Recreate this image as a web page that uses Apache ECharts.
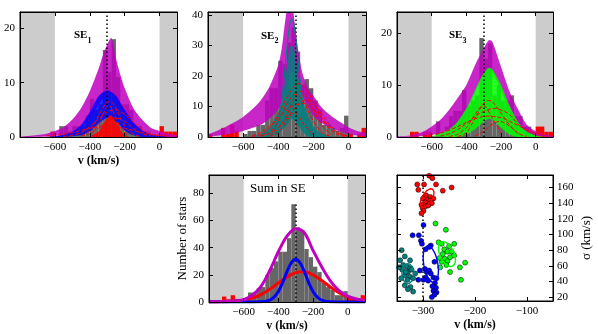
<!DOCTYPE html>
<html>
<head>
<meta charset="utf-8">
<script src="https://cdn.jsdelivr.net/npm/echarts@6/dist/echarts.min.js"></script>
<style>
html, body { margin: 0; padding: 0; background: #fff; }
#chart { width: 598px; height: 334px; }
</style>
</head>
<body>
<div id="chart"></div>
<script>
// histogram bins: 25 km/s wide starting at -800
const binStart = -800
const binWidth = 25
const refV = -300
const sumRefTop = 72
const shadeRanges = [[-800, -600], [0, 100]]

// counts per bin (-800 .. 100)
const histSE1 = [0,0,0,0,0,0,0,1, 0,2,2,1,2,2,2,4,7,5,6,16,12,18,11,6,6,5,2,2,1,1,0,0, 2,1,1,1]
const histSE2 = [1,0,0,3,1,4,2,0, 1,2,2,4,4,12,16,16,25,24,31,36,28,17,19,16,12,9,4,4,3,2,3,7, 1,0,1,3]
const histSE3 = [0,0,0,1,1,0,1,1, 0,3,1,2,4,5,5,9,6,7,8,19,15,18,8,10,7,7,8,4,4,2,2,1, 2,2,1,1]
const histSum = [1,1,1,4,2,5,2,1, 3,7,7,10,11,20,25,30,37,37,47,72,55,53,39,33,26,22,14,11,9,5,5,8, 3,2,2,5]

// SE1 model curves [v, N]
const magUp1 = [[-800,0.1],[-750,0.2],[-700,0.35],[-650,0.6],[-600,1.1],[-550,1.8],[-500,3.2],[-450,5.3],[-400,8.4],[-350,12.5],[-320,15.5],[-300,17],[-285,18],[-275,18.2],[-265,17],[-250,14.5],[-225,11.5],[-200,9],[-150,5.3],[-100,3.2],[-50,1.7],[0,1.1],[50,0.6],[100,0.3]]
const magLo1 = [[-800,0],[-700,0.05],[-600,0.2],[-550,0.4],[-500,0.8],[-450,1.6],[-400,3.5],[-350,6],[-300,8],[-275,8],[-250,6.8],[-200,4],[-150,1.8],[-100,0.8],[-50,0.3],[0,0.1],[100,0]]
const blueUp1 = [[-650,0.05],[-600,0.15],[-550,0.4],[-500,1],[-450,2.2],[-400,4.6],[-350,7.5],[-300,8.6],[-250,7.6],[-200,5],[-150,2.7],[-100,1.2],[-50,0.5],[0,0.2],[50,0.05]]
const blueLo1 = [[-550,0],[-450,0.3],[-400,1],[-350,2.5],[-300,3.5],[-250,2.8],[-200,1.2],[-150,0.3],[-100,0]]
const redCore1 = [[-400,0.1],[-350,1],[-310,3],[-280,4],[-250,2.8],[-210,0.6],[-180,0.1]]
const redLines1 = [
  [[-450,0.2],[-400,1.2],[-350,3.9],[-300,6.4],[-280,6.5],[-250,5.3],[-200,2.1],[-150,0.5],[-100,0.05]],
  [[-550,0.1],[-500,0.3],[-450,0.8],[-400,1.9],[-350,3.3],[-300,4.6],[-260,5],[-200,4.2],[-150,2.7],[-100,1.4],[-50,0.5],[0,0.2]],
  [[-450,0.2],[-400,0.6],[-350,1.6],[-300,2.9],[-250,3.5],[-200,2.9],[-150,1.6],[-100,0.6],[-50,0.2]],
  [[-650,0.2],[-600,0.3],[-550,0.5],[-500,0.8],[-450,1.2],[-400,1.6],[-350,1.9],[-300,2],[-250,1.9],[-200,1.6],[-150,1.2],[-100,0.8],[-50,0.5],[0,0.3],[50,0.2]],
  [[-400,0.5],[-350,2.2],[-320,4.5],[-290,5.8],[-260,4.3],[-220,1.5],[-180,0.3]]
]

// SE2 model curves
const magUp2 = [[-800,0.8],[-750,2],[-700,3.3],[-650,4.8],[-600,6.6],[-550,9],[-500,12],[-450,16.5],[-400,23.5],[-380,29],[-365,36],[-350,42],[-335,45],[-320,43],[-305,37],[-290,30],[-275,24.5],[-260,20.5],[-230,16],[-200,13.5],[-150,9.5],[-100,7],[-50,5],[0,3.2],[50,2],[100,1.3]]
const magLo2 = [[-800,0.2],[-700,0.8],[-600,2],[-500,4],[-450,6],[-400,9],[-350,16],[-320,22],[-300,20],[-250,12],[-200,7],[-150,4.5],[-100,3],[-50,1.8],[0,1],[100,0.3]]
const tealUp2 = [[-550,0.3],[-500,1],[-450,3],[-400,8],[-370,15],[-350,23],[-330,30],[-310,29],[-290,21],[-260,12],[-230,7],[-200,3.5],[-150,1],[-100,0.2]]
const tealLo2 = [[-450,0],[-400,1],[-350,4],[-320,6],[-300,5],[-250,1],[-200,0]]
const tealSpike2 = [[-450,0.8],[-400,4.7],[-370,17.4],[-350,29.5],[-335,36.5],[-322,38.7],[-310,36.9],[-295,30],[-275,18],[-250,6.4],[-225,1.5],[-200,0.2]]
const redLines2 = [
  [[-550,0.2],[-500,0.8],[-450,2.9],[-400,7.3],[-350,13.1],[-300,17.1],[-280,17.5],[-250,16.6],[-200,11.6],[-150,6],[-100,2.3],[-50,0.6],[0,0.1]],
  [[-500,0.2],[-450,1.4],[-400,5.2],[-350,10.9],[-300,14],[-250,10.9],[-200,5.2],[-150,1.4],[-100,0.2]],
  [[-550,0.3],[-500,1.5],[-450,3.6],[-400,6.2],[-350,8.9],[-300,10.6],[-260,11],[-200,9.1],[-150,6.1],[-100,3.1],[-50,1.1],[0,0.3]],
  [[-450,0.1],[-400,1.6],[-350,5.4],[-310,8],[-250,3.9],[-200,0.7]],
  [[-450,0.5],[-400,2.7],[-350,7.3],[-300,13.6],[-270,15],[-250,14.4],[-200,9.1],[-150,3.8],[-100,0.8]],
  [[-500,0.4],[-450,1.2],[-400,3.2],[-350,6.3],[-300,9.8],[-240,12],[-200,11],[-150,7.3],[-100,3.6],[-50,1.2],[0,0.4]]
]

// SE3 model curves
const magUp3 = [[-800,0.1],[-750,0.2],[-700,0.5],[-650,1],[-600,2],[-550,3.3],[-500,5.2],[-450,7.5],[-400,10],[-350,13.8],[-300,17],[-270,18.6],[-250,18.3],[-200,13.5],[-150,8.7],[-100,5.2],[-50,2.3],[0,1.1],[50,0.5],[100,0.2]]
const magLo3 = [[-800,0],[-700,0.1],[-600,0.4],[-550,0.8],[-500,1.5],[-450,2.8],[-400,5],[-350,8.5],[-300,12],[-270,13],[-250,12.5],[-200,9],[-150,5],[-100,2.3],[-50,0.8],[0,0.3],[100,0]]
const greenUp3 = [[-600,0.2],[-550,0.6],[-500,1.4],[-450,3],[-400,5.5],[-350,9],[-300,12.3],[-270,13.3],[-250,13],[-200,10],[-150,6],[-100,2.8],[-50,1],[0,0.3],[50,0.1]]
const greenLo3 = [[-450,0],[-400,0.5],[-350,1.5],[-300,3],[-270,3.5],[-250,3.3],[-200,1.8],[-150,0.5],[-100,0]]
const redLines3 = [
  [[-500,0.1],[-450,0.5],[-400,1.8],[-350,4.3],[-300,6.5],[-270,7],[-250,6.8],[-200,4.6],[-150,2.3],[-100,0.7],[-50,0.1]],
  [[-550,0.2],[-500,0.6],[-450,1.4],[-400,2.6],[-350,3.9],[-300,4.9],[-240,5.5],[-200,5.2],[-150,4.3],[-100,2.4],[-50,1.2],[0,0.5]],
  [[-650,0.2],[-600,0.4],[-550,0.8],[-500,1.3],[-450,2],[-400,2.8],[-350,3.5],[-280,4],[-200,3.7],[-150,3],[-100,2.2],[-50,1.4],[0,0.8],[50,0.4]],
  [[-350,0.2],[-300,1.1],[-250,2.4],[-210,3],[-150,2.1],[-100,0.6]],
  [[-450,0.1],[-400,0.8],[-350,3.6],[-300,6],[-250,3.6],[-200,0.8]]
]

// Sum in SE fits
const sumMag = [[-800,0.2],[-750,0.3],[-700,0.5],[-650,0.9],[-600,1.8],[-550,5],[-500,11.5],[-450,23],[-400,37],[-350,48.5],[-300,54],[-250,51],[-200,38],[-150,26],[-100,15.5],[-50,8.3],[0,4.3],[50,2.3],[100,1.2]]
const sumBlue = [[-800,0],[-550,0],[-500,0.1],[-450,1.4],[-425,3.6],[-400,7.8],[-375,14.3],[-350,22.3],[-325,28.9],[-300,31.5],[-275,28.9],[-250,22.3],[-225,14.3],[-200,7.8],[-175,3.6],[-150,1.4],[-100,0.1],[-50,0],[100,0]]
const sumRed = [[-800,0],[-700,0.2],[-650,0.5],[-600,1.3],[-550,2.8],[-500,5.4],[-450,9.3],[-400,14],[-350,18.5],[-300,21.6],[-265,22.3],[-250,22.2],[-200,20],[-150,15.9],[-100,11.1],[-50,6.9],[0,3.7],[50,1.8],[100,0.7]]

// (v, sigma) of individual fields
const ptsRed = [[-288,175],[-282,172],[-311,164],[-298,164],[-275,164],[-245,160],[-262,156],[-309,157],[-294,150],[-286,148],[-280,146],[-300,146],[-292,144],[-286,143],[-296,141],[-288,139],[-303,138],[-295,136],[-301,134],[-299,130],[-303,127],[-283,140],[-290,137]]
const ptsBlue = [[-299,112],[-320,99],[-308,99],[-304,92],[-302,88],[-285,86],[-295,81],[-288,84],[-278,65],[-306,54],[-296,56],[-293,52],[-288,54],[-285,50],[-295,45],[-299,42],[-290,41],[-280,45],[-274,44],[-277,38],[-282,34],[-275,32],[-280,28],[-274,26],[-278,23],[-283,20],[-309,42]]
const ptsTeal = [[-341,80],[-335,72],[-344,67],[-325,67],[-338,61],[-331,59],[-325,57],[-340,55],[-329,52],[-322,55],[-335,48],[-325,46],[-342,44],[-330,42],[-319,44],[-315,50],[-324,33],[-329,30],[-319,27],[-335,35],[-346,58],[-333,52]]
const ptsGreen = [[-276,114],[-256,106],[-270,90],[-264,88],[-240,88],[-259,81],[-253,78],[-245,78],[-248,71],[-258,69],[-264,65],[-253,66],[-267,58],[-255,61],[-248,52],[-229,58],[-219,64],[-227,42],[-240,73],[-262,75],[-250,85],[-268,70]]
// ellipses: centre v, centre sigma, semi-axis v, semi-axis sigma, tilt (deg)
const ellRed = [-292, 146.5, 9.6, 13.4, 30]
const ellBlue = [-285, 62, 13.5, 23.6, -10]
const ellGreen = [-254, 75, 13.5, 17.2, -25]
const ellTeal = [-329, 50, 11.5, 12.8, 0]

const MAG = '#bf00bf', BLUE = '#0000ff', RED = '#ff0000', GREEN = '#00ff00', TEAL = '#008080'
const font = 'Liberation Serif'
const minus = v => String(v).replace('-', '\u2212')

const chart = echarts.init(document.getElementById('chart'))

const grids = [
  { left: 20, top: 12, width: 157, height: 125 },
  { left: 208, top: 12, width: 158, height: 125 },
  { left: 397, top: 12, width: 156, height: 125 },
  { left: 209, top: 175, width: 156, height: 127 },
  { left: 397, top: 175, width: 156, height: 126 }
].map(g => Object.assign(g, { show: true, borderColor: '#000', borderWidth: 1 }))

const xAxes = []
const yAxes = []
function axisBase(g, min, max, ticks) {
  return {
    gridIndex: g, type: 'value', min: min, max: max, z: 20,
    splitLine: { show: false },
    axisLine: { show: true, onZero: false, lineStyle: { color: '#000', width: 1 } },
    axisTick: { show: true, inside: true, length: 4, customValues: ticks, lineStyle: { color: '#000' } }
  }
}
function labelStyle(ticks, margin) {
  return { customValues: ticks, fontFamily: font, fontSize: 11, color: '#000', margin: margin, formatter: minus }
}
function addX(g, min, max, ticks, name) {
  xAxes.push(Object.assign(axisBase(g, min, max, ticks), {
    position: 'bottom', axisLabel: labelStyle(ticks, 5),
    name: name, nameLocation: 'middle', nameGap: 18,
    nameTextStyle: { fontFamily: font, fontSize: 12, fontWeight: 'bold', color: '#000' }
  }))
  xAxes.push(Object.assign(axisBase(g, min, max, ticks), { position: 'top', axisLabel: { show: false } }))
}
function addY(g, min, max, ticks, side, name, gap) {
  const other = side === 'left' ? 'right' : 'left'
  yAxes.push(Object.assign(axisBase(g, min, max, ticks), {
    position: side, axisLabel: labelStyle(ticks, side === 'left' ? 5 : 4),
    name: name, nameLocation: 'middle', nameGap: gap, nameRotate: 90,
    nameTextStyle: { fontFamily: font, fontSize: 13, color: '#000' }
  }))
  yAxes.push(Object.assign(axisBase(g, min, max, ticks), { position: other, axisLabel: { show: false } }))
}

const vTicks = [-600, -400, -200, 0]
addX(0, -800, 100, vTicks, 'v (km/s)')
addX(1, -800, 100, vTicks, '')
addX(2, -800, 100, vTicks, '')
addX(3, -800, 100, vTicks, 'v (km/s)')
addX(4, -350, -50, [-300, -200, -100], 'v (km/s)')
addY(0, 0, 23, [0, 10, 20], 'left', '', 0)
addY(1, 0, 41, [0, 10, 20, 30, 40], 'left', '', 0)
addY(2, 0, 24, [0, 10, 20], 'left', '', 0)
addY(3, 0, 93.5, [0, 20, 40, 60, 80], 'left', 'Number of stars', 19)
addY(4, 15, 176, [20, 40, 60, 80, 100, 120, 140, 160], 'right', '\u03c3 (km/s)', 27)

const series = []
const ax = g => ({ xAxisIndex: 2 * g, yAxisIndex: 2 * g })

function shade(g) {
  series.push(Object.assign(ax(g), {
    type: 'line', data: [], silent: true, z: 1,
    markArea: { silent: true, itemStyle: { color: '#cccccc' }, data: shadeRanges.map(r => [{ xAxis: r[0] }, { xAxis: r[1] }]) }
  }))
}
function hist(g, counts) {
  series.push(Object.assign(ax(g), {
    type: 'custom', silent: true, z: 2, clip: true,
    data: counts.map((n, i) => [binStart + i * binWidth, binStart + (i + 1) * binWidth, n]),
    encode: { x: [0, 1], y: 2 },
    renderItem: (params, api) => {
      const x0 = api.value(0), x1 = api.value(1), n = api.value(2)
      const p0 = api.coord([x0, n]), p1 = api.coord([x1, 0])
      const out = x0 < shadeRanges[0][1] || x0 >= shadeRanges[1][0]
      return { type: 'rect', shape: { x: p0[0], y: p0[1], width: p1[0] - p0[0], height: p1[1] - p0[1] }, style: { fill: out ? RED : '#666666' } }
    }
  }))
}
function band(g, up, lo, color, opacity, z) {
  series.push(Object.assign(ax(g), {
    type: 'custom', silent: true, z: z, clip: true,
    data: [up[Math.floor(up.length / 2)]],
    renderItem: (params, api) => {
      const pts = up.map(p => api.coord(p)).concat(lo.slice().reverse().map(p => api.coord(p)))
      const cs = params.coordSys
      return {
        type: 'polygon', shape: { points: pts, smooth: 0.25 },
        style: { fill: color, opacity: opacity },
        clipPath: { type: 'rect', shape: { x: cs.x, y: cs.y, width: cs.width, height: cs.height } }
      }
    }
  }))
}
// outline of a fitted ellipse; tilt is applied in screen proportions of grid g
function ellipse(g, e, color) {
  const gr = grids[g], xa = xAxes[2 * g], ya = yAxes[2 * g]
  const kx = gr.width / (xa.max - xa.min), ky = gr.height / (ya.max - ya.min)
  const a = e[4] * Math.PI / 180
  const rx = e[2] * kx, ry = e[3] * ky
  const ring = []
  for (let k = 0; k <= 72; k++) {
    const t = 2 * Math.PI * k / 72
    const x = rx * Math.cos(t), y = ry * Math.sin(t)
    const X = x * Math.cos(a) - y * Math.sin(a), Y = x * Math.sin(a) + y * Math.cos(a)
    ring.push([e[0] + X / kx, e[1] - Y / ky])
  }
  series.push(Object.assign(ax(g), {
    type: 'line', data: ring, symbol: 'none', silent: true, z: 30,
    lineStyle: { color: color, width: 1.4 }
  }))
}
function curve(g, pts, color, width, dash, z) {
  series.push(Object.assign(ax(g), {
    type: 'line', data: pts, smooth: 0.35, symbol: 'none', silent: true, z: z,
    lineStyle: { color: color, width: width, type: dash ? [4, 2] : 'solid' }
  }))
}
function refLine(g, top) {
  const data = top == null ? [{ xAxis: refV }] : [[{ coord: [refV, 0] }, { coord: [refV, top] }]]
  series.push(Object.assign(ax(g), {
    type: 'line', data: [], silent: true, z: 10,
    markLine: { silent: true, symbol: 'none', label: { show: false }, lineStyle: { color: '#000', width: 1.5, type: [1.5, 2.5] }, data: data }
  }))
}

// SE1
shade(0); hist(0, histSE1)
band(0, magUp1, magLo1, MAG, 0.85, 3)
band(0, blueUp1, blueLo1, BLUE, 0.85, 4)
band(0, redCore1, [[-400, 0], [-180, 0]], RED, 0.9, 5)
redLines1.forEach(c => curve(0, c, RED, 1, true, 6))
refLine(0)

// SE2
shade(1); hist(1, histSE2)
band(1, magUp2, magLo2, MAG, 0.85, 3)
band(1, tealUp2, tealLo2, TEAL, 0.85, 4)
curve(1, tealSpike2, TEAL, 1.2, false, 5)
redLines2.forEach(c => curve(1, c, RED, 1, true, 6))
refLine(1)

// SE3
shade(2); hist(2, histSE3)
band(2, magUp3, magLo3, MAG, 0.85, 3)
band(2, greenUp3, greenLo3, GREEN, 0.85, 4)
redLines3.forEach(c => curve(2, c, RED, 1, true, 6))
refLine(2)

// Sum
shade(3); hist(3, histSum)
refLine(3, sumRefTop)
curve(3, sumRed, RED, 3, false, 6)
curve(3, sumBlue, BLUE, 3, false, 6)
curve(3, sumMag, MAG, 3, false, 7)

// (v, sigma) plane
refLine(4)
;[[ptsRed, RED], [ptsBlue, BLUE], [ptsTeal, TEAL], [ptsGreen, GREEN]].forEach(([pts, c]) => {
  series.push(Object.assign(ax(4), {
    type: 'scatter', data: pts, symbolSize: 5, silent: true, z: 11,
    itemStyle: { color: c, borderColor: '#000', borderWidth: 0.5, opacity: 1 }
  }))
})
ellipse(4, ellRed, RED)
ellipse(4, ellBlue, BLUE)
ellipse(4, ellTeal, TEAL)
ellipse(4, ellGreen, GREEN)

const txt = (x, y, s, size, weight) => ({
  type: 'text', left: x, top: y, z: 50,
  style: { text: s, fontFamily: font, fontSize: size, fontWeight: weight || 'normal', fill: '#000' }
})

chart.setOption({
  animation: false,
  backgroundColor: '#fff',
  grid: grids,
  xAxis: xAxes,
  yAxis: yAxes,
  series: series,
  graphic: [
    txt(74, 30, 'SE', 11, 'bold'), txt(87.5, 36.5, '1', 8, 'bold'),
    txt(261, 30.5, 'SE', 11, 'bold'), txt(274.5, 37, '2', 8, 'bold'),
    txt(449, 30, 'SE', 11, 'bold'), txt(462.5, 36.5, '3', 8, 'bold'),
    txt(250, 182, 'Sum in SE', 13)
  ]
})
</script>
</body>
</html>
